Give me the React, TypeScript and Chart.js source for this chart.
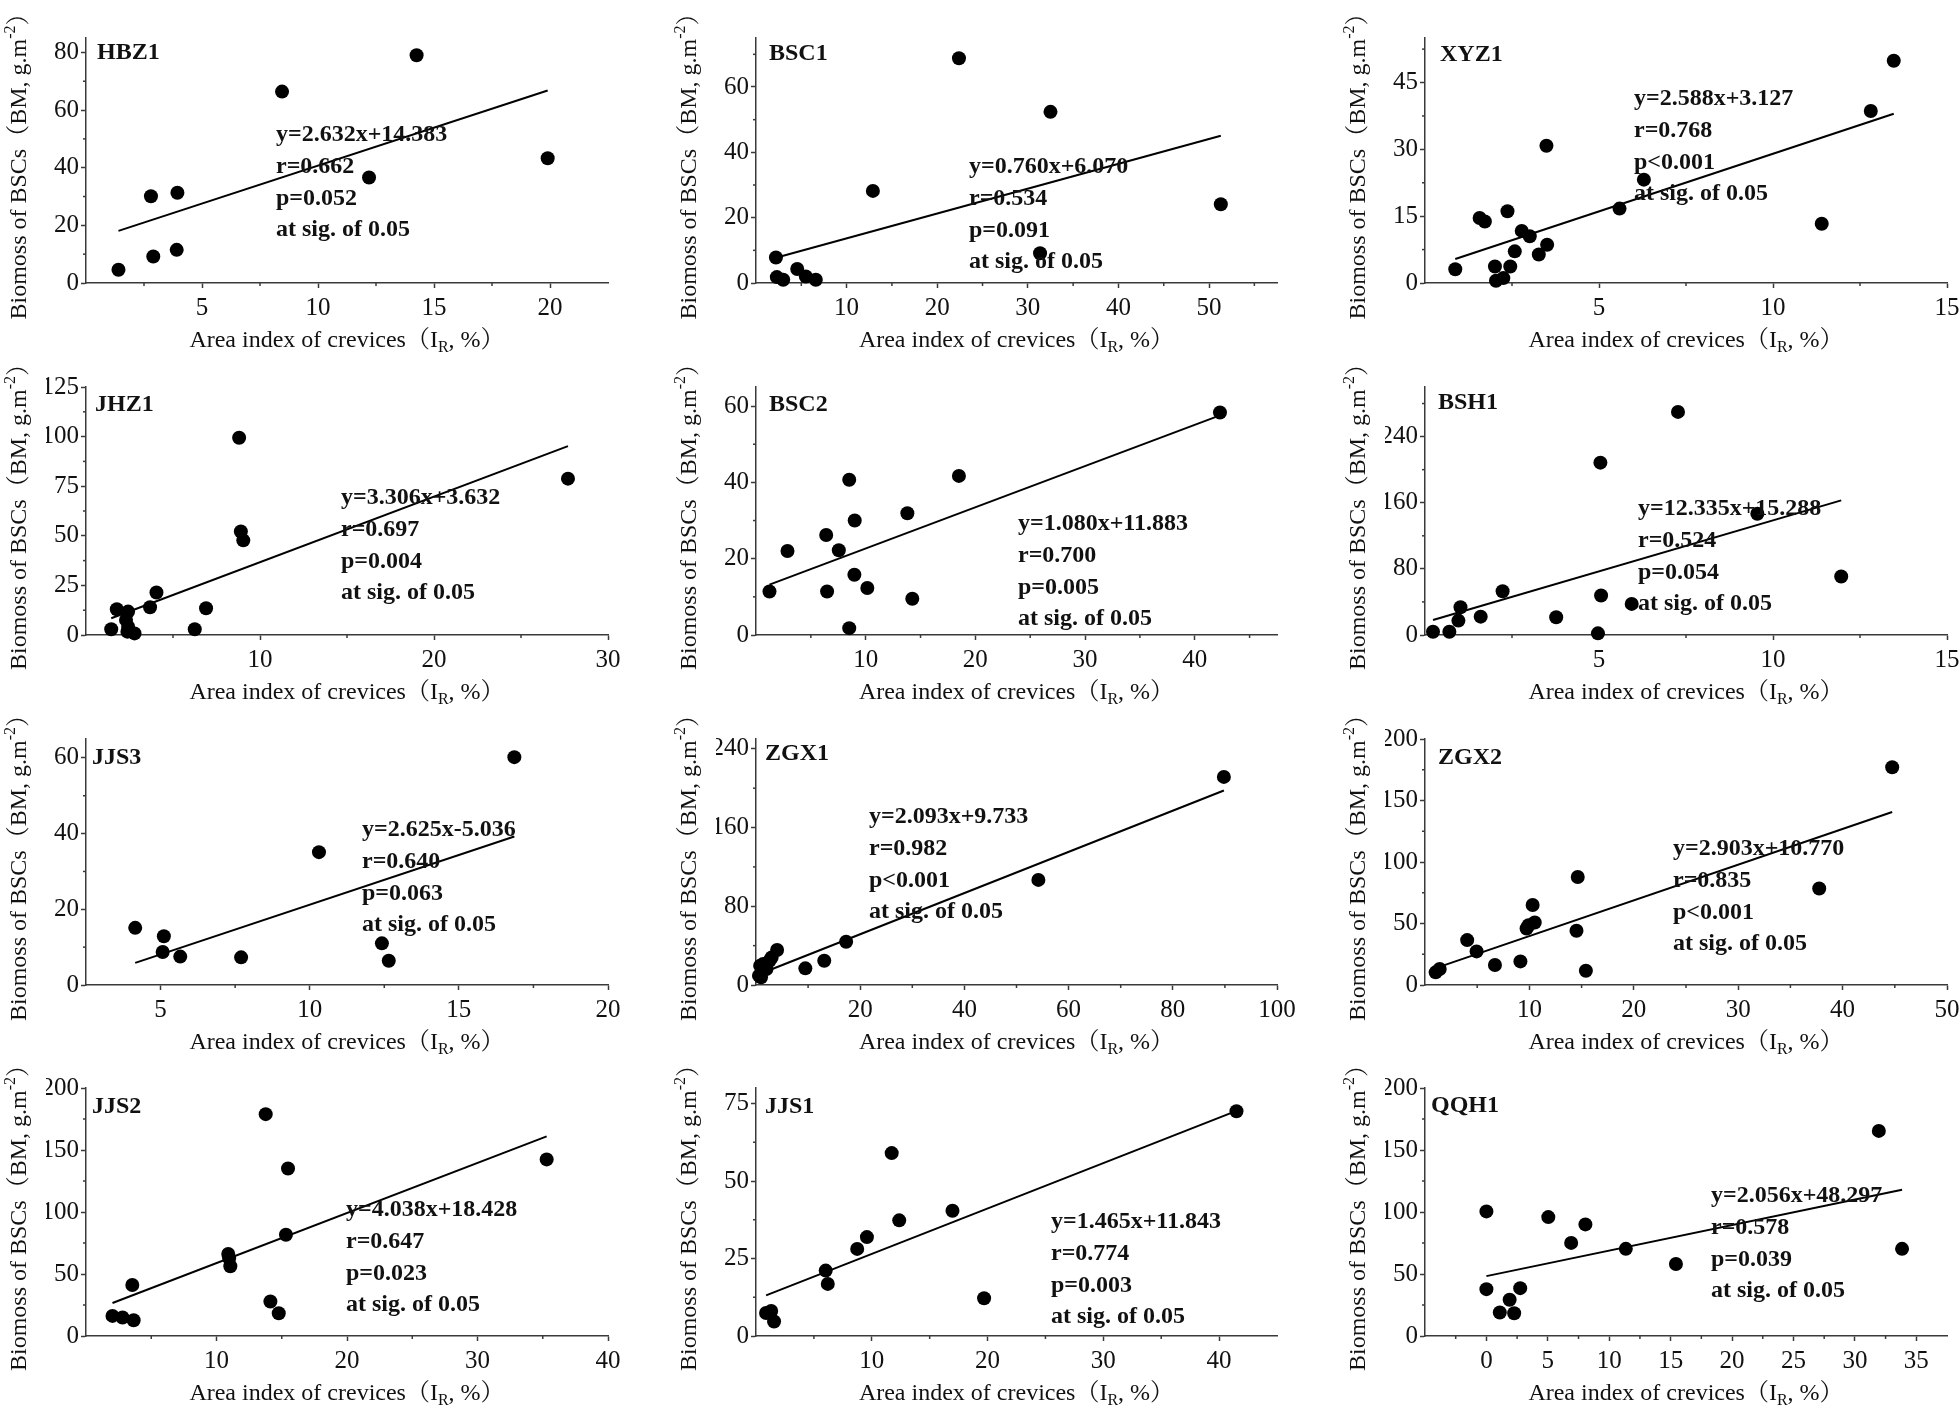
import React, { useEffect, useRef } from "react";
import { Chart, registerables } from "chart.js";

Chart.register(...registerables);

// ---------------- data ----------------
const panelNames = ["HBZ1", "BSC1", "XYZ1", "JHZ1", "BSC2", "BSH1", "JJS3", "ZGX1", "ZGX2", "JJS2", "JJS1", "QQH1"];

const hbz1X = [1.4, 2.8, 2.9, 3.94, 3.91, 8.45, 12.2, 14.25, 19.9];
const hbz1Y = [4.6, 30.1, 9.2, 31.3, 11.5, 66.4, 36.6, 79.0, 43.3];

const bsc1X = [2.2, 2.3, 3.0, 4.55, 5.5, 6.6, 12.9, 22.4, 31.35, 32.5, 51.3];
const bsc1Y = [7.8, 1.8, 1.0, 4.3, 2.0, 1.0, 28.2, 68.8, 9.1, 52.4, 24.1];

const xyz1X = [0.87, 1.57, 1.72, 2.37, 2.01, 2.04, 2.25, 2.45, 2.58, 2.78, 3.01, 3.27, 3.51, 3.49, 5.59, 6.29, 11.4, 12.81, 13.47];
const xyz1Y = [3.1, 14.6, 13.8, 16.1, 3.7, 0.5, 1.1, 3.7, 7.1, 11.7, 10.5, 6.4, 8.6, 30.8, 16.7, 23.2, 13.3, 38.6, 49.9];

const jhz1X = [1.45, 1.77, 2.42, 2.3, 2.42, 2.38, 2.79, 3.68, 4.05, 6.25, 6.9, 8.8, 8.9, 9.04, 27.7];
const jhz1Y = [2.9, 13.0, 11.8, 7.6, 4.2, 1.7, 0.8, 14.0, 21.4, 2.9, 13.5, 99.4, 52.2, 47.7, 78.8];

const bsc2X = [1.23, 2.87, 6.4, 6.48, 7.55, 8.5, 8.5, 9.0, 8.97, 10.15, 13.8, 14.25, 18.5, 42.3];
const bsc2Y = [11.4, 22.0, 26.2, 11.4, 22.2, 40.7, 1.8, 30.0, 15.8, 12.3, 31.9, 9.5, 41.7, 58.3];

const bsh1X = [0.23, 0.7, 0.96, 1.02, 1.6, 2.23, 3.77, 4.97, 5.04, 5.06, 5.94, 7.27, 9.55, 11.96];
const bsh1Y = [4.0, 4.0, 17.4, 33.5, 22.2, 52.9, 21.4, 2.0, 208.5, 47.7, 37.6, 269.9, 146.7, 70.7];

const jjs3X = [4.15, 5.11, 5.07, 5.66, 7.7, 10.31, 12.42, 12.65, 16.86];
const jjs3Y = [15.1, 12.9, 8.7, 7.5, 7.3, 35.1, 11.0, 6.4, 60.2];

const zgx1X = [0.57, 0.8, 0.97, 1.38, 2.0, 2.6, 3.0, 4.05, 9.47, 13.1, 17.3, 54.2, 89.8];
const zgx1Y = [9.5, 19.6, 7.8, 21.3, 16.2, 24.7, 28.0, 35.5, 16.9, 24.7, 43.9, 106.8, 211.5];

const zgx2X = [1.02, 1.41, 4.04, 4.94, 6.7, 9.14, 9.73, 9.92, 10.31, 10.51, 14.51, 14.63, 15.41, 37.76, 44.75];
const zgx2Y = [10.3, 13.0, 36.5, 27.3, 16.2, 19.2, 45.9, 48.6, 65.1, 50.8, 44.1, 87.8, 11.6, 78.4, 177.0];

const jjs2X = [2.03, 2.8, 3.65, 3.55, 10.9, 10.97, 11.06, 13.77, 14.13, 14.77, 15.32, 15.48, 35.3];
const jjs2Y = [16.2, 14.9, 12.7, 41.1, 66.2, 62.7, 56.2, 178.9, 27.8, 18.4, 81.6, 135.1, 142.4];

const jjs1X = [0.87, 1.31, 1.56, 6.02, 6.2, 8.74, 9.58, 11.72, 12.37, 16.97, 19.7, 41.5];
const jjs1Y = [7.4, 8.1, 4.7, 21.1, 16.8, 28.1, 31.9, 59.0, 37.3, 40.4, 12.2, 72.5];

const qqh1X = [0, 0, 1.09, 1.89, 2.26, 2.75, 5.04, 6.9, 8.06, 11.35, 15.43, 31.95, 33.84];
const qqh1Y = [100.5, 37.8, 18.9, 29.2, 18.4, 38.6, 95.9, 75.1, 90.0, 70.3, 58.1, 165.4, 70.3];

const slopes = [2.632, 0.76, 2.588, 3.306, 1.08, 12.335, 2.625, 2.093, 2.903, 4.038, 1.465, 2.056];
const intercepts = [14.383, 6.07, 3.127, 3.632, 11.883, 15.288, -5.036, 9.733, 10.77, 18.428, 11.843, 48.297];

const eqLabels = [
  "y=2.632x+14.383", "y=0.760x+6.070", "y=2.588x+3.127",
  "y=3.306x+3.632", "y=1.080x+11.883", "y=12.335x+15.288",
  "y=2.625x-5.036", "y=2.093x+9.733", "y=2.903x+10.770",
  "y=4.038x+18.428", "y=1.465x+11.843", "y=2.056x+48.297",
];
const rLabels = ["r=0.662", "r=0.534", "r=0.768", "r=0.697", "r=0.700", "r=0.524", "r=0.640", "r=0.982", "r=0.835", "r=0.647", "r=0.774", "r=0.578"];
const pLabels = ["p=0.052", "p=0.091", "p<0.001", "p=0.004", "p=0.005", "p=0.054", "p=0.063", "p<0.001", "p<0.001", "p=0.023", "p=0.003", "p=0.039"];
const sigLabel = "at sig. of 0.05";

const xRanges = [[0, 22.5], [0, 57.5], [0, 15], [0, 30], [0, 47.5], [0, 15], [2.5, 20], [0, 100], [0, 50], [0, 40], [0, 45], [-5, 37.5]];
const yRanges = [[0, 85], [0, 75], [0, 55], [0, 125], [0, 65], [0, 300], [0, 65], [0, 250], [0, 200], [0, 200], [0, 80], [0, 200]];
const xTickLabels = [
  [5, 10, 15, 20], [10, 20, 30, 40, 50], [5, 10, 15],
  [10, 20, 30], [10, 20, 30, 40], [5, 10, 15],
  [5, 10, 15, 20], [20, 40, 60, 80, 100], [10, 20, 30, 40, 50],
  [10, 20, 30, 40], [10, 20, 30, 40], [0, 5, 10, 15, 20, 25, 30, 35],
];
const yTickLabels = [
  [0, 20, 40, 60, 80], [0, 20, 40, 60], [0, 15, 30, 45],
  [0, 25, 50, 75, 100, 125], [0, 20, 40, 60], [0, 80, 160, 240],
  [0, 20, 40, 60], [0, 80, 160, 240], [0, 50, 100, 150, 200],
  [0, 50, 100, 150, 200], [0, 25, 50, 75], [0, 50, 100, 150, 200],
];
const xMinorSteps = [2.5, 5, 2.5, 5, 5, 2.5, 2.5, 10, 5, 5, 5, 2.5];
const yMinorSteps = [10, 10, 7.5, 12.5, 10, 40, 10, 40, 25, 25, 12.5, 25];

const xTitleParts = ["Area index of crevices\uFF08I", "R", ", %\uFF09"];
const yTitleParts = ["Biomoss of BSCs\uFF08BM, g.m", "-2", "\uFF09"];

const xsList = [hbz1X, bsc1X, xyz1X, jhz1X, bsc2X, bsh1X, jjs3X, zgx1X, zgx2X, jjs2X, jjs1X, qqh1X];
const ysList = [hbz1Y, bsc1Y, xyz1Y, jhz1Y, bsc2Y, bsh1Y, jjs3Y, zgx1Y, zgx2Y, jjs2Y, jjs1Y, qqh1Y];

// ---------------- layout ----------------
const colL = [86, 756, 1425];
const colR = [608, 1277, 1947];
const rowT = [38, 387, 739, 1088];
const rowB = [283, 635, 985, 1336];
const PADL = 100, PADT = 60, PADB = 85, YW = 40, XH = 40;
const padRight = [25, 25, 13];

// annotation first-line centre, relative to chart area (left, top)
const annotOffsets = [[190, 97], [213, 129], [209, 61], [255, 111], [262, 137], [213, 122], [276, 91], [113, 78], [248, 110], [260, 122], [295, 134], [286, 108]];
const labelOffsets = [[11, 15], [13, 16], [15, 17], [9, 18], [13, 18], [13, 16], [6, 19], [9, 15], [13, 19], [6, 19], [9, 19], [6, 18]];

const SERIF = "'Liberation Serif', 'Times New Roman', 'Noto Serif CJK SC', 'Noto Sans CJK SC', serif";
const AXIS = "#3a3a3a";
const TEXT = "#111111";
const TICK_FS = 25;
const TITLE_FS = 24;
const ANNOT_FS = 24;

type Seg = { t: string; kind: "n" | "sub" | "sup" };

function drawRich(ctx: CanvasRenderingContext2D, segs: Seg[], size: number) {
  const small = Math.round(size * 0.65);
  const widths = segs.map((s) => {
    ctx.font = `${s.kind === "n" ? size : small}px ${SERIF}`;
    return ctx.measureText(s.t).width;
  });
  const total = widths.reduce((a, b) => a + b, 0);
  let x = -total / 2;
  segs.forEach((s, i) => {
    ctx.font = `${s.kind === "n" ? size : small}px ${SERIF}`;
    const dy = s.kind === "sub" ? size * 0.28 : s.kind === "sup" ? -size * 0.38 : 0;
    ctx.fillText(s.t, x, dy);
    x += widths[i];
  });
}

function makeDecor(i: number) {
  return {
    id: "decor" + i,
    afterDraw(chart: any) {
      const ctx: CanvasRenderingContext2D = chart.ctx;
      const a = chart.chartArea;
      const sx = chart.scales.x;
      const sy = chart.scales.y;
      ctx.save();
      // minor ticks
      ctx.strokeStyle = AXIS;
      ctx.lineWidth = 1.5;
      const [x0, x1] = xRanges[i];
      const [y0, y1] = yRanges[i];
      const xt = xTickLabels[i];
      const yt = yTickLabels[i];
      const stx = xMinorSteps[i];
      for (let k = Math.ceil((x0 + 1e-9) / stx); k * stx < x1 - 1e-9; k++) {
        const v = k * stx;
        if (xt.some((t) => Math.abs(t - v) < 1e-6)) continue;
        const px = sx.getPixelForValue(v);
        ctx.beginPath();
        ctx.moveTo(px, a.bottom);
        ctx.lineTo(px, a.bottom + 3);
        ctx.stroke();
      }
      const sty = yMinorSteps[i];
      for (let k = Math.ceil((y0 + 1e-9) / sty); k * sty < y1 - 1e-9; k++) {
        const v = k * sty;
        if (yt.some((t) => Math.abs(t - v) < 1e-6)) continue;
        const py = sy.getPixelForValue(v);
        ctx.beginPath();
        ctx.moveTo(a.left, py);
        ctx.lineTo(a.left - 3, py);
        ctx.stroke();
      }
      ctx.fillStyle = TEXT;
      // panel label
      ctx.font = `bold ${ANNOT_FS}px ${SERIF}`;
      ctx.textBaseline = "middle";
      ctx.textAlign = "left";
      ctx.fillText(panelNames[i], a.left + labelOffsets[i][0], a.top + labelOffsets[i][1]);
      // annotation
      const lines = [eqLabels[i], rLabels[i], pLabels[i], sigLabel];
      lines.forEach((t, k) => {
        ctx.fillText(t, a.left + annotOffsets[i][0], a.top + annotOffsets[i][1] + k * 31.7);
      });
      // x title
      ctx.textAlign = "left";
      ctx.textBaseline = "middle";
      ctx.save();
      ctx.translate((a.left + a.right) / 2, a.bottom + 58);
      drawRich(ctx, [
        { t: xTitleParts[0], kind: "n" },
        { t: xTitleParts[1], kind: "sub" },
        { t: xTitleParts[2], kind: "n" },
      ], TITLE_FS);
      ctx.restore();
      // y title
      ctx.save();
      ctx.translate(a.left - 66, (a.top + a.bottom) / 2);
      ctx.rotate(-Math.PI / 2);
      drawRich(ctx, [
        { t: yTitleParts[0], kind: "n" },
        { t: yTitleParts[1], kind: "sup" },
        { t: yTitleParts[2], kind: "n" },
      ], TITLE_FS);
      ctx.restore();
      ctx.restore();
    },
  };
}

function Panel({ i }: { i: number }) {
  const ref = useRef<HTMLCanvasElement | null>(null);
  const col = i % 3;
  const row = Math.floor(i / 3);
  const L = colL[col], R = colR[col], T = rowT[row], B = rowB[row];
  const PADR = padRight[col];
  const w = R - L + PADL + PADR;
  const h = B - T + PADT + PADB;

  useEffect(() => {
    const xs = xsList[i];
    const ys = ysList[i];
    const pts = xs.map((x, k) => ({ x, y: ys[k] }));
    const minX = Math.min(...xs);
    const maxX = Math.max(...xs);
    const fit = [
      { x: minX, y: slopes[i] * minX + intercepts[i] },
      { x: maxX, y: slopes[i] * maxX + intercepts[i] },
    ];
    const tickFont = { family: SERIF, size: TICK_FS };
    const chart = new Chart(ref.current as HTMLCanvasElement, {
      type: "scatter",
      data: {
        datasets: [
          {
            type: "scatter",
            data: pts,
            pointRadius: 7,
            pointHoverRadius: 7,
            backgroundColor: "#000",
            borderWidth: 0,
            clip: false,
          } as any,
          {
            type: "line",
            data: fit,
            showLine: true,
            borderColor: "#000",
            borderWidth: 2,
            pointRadius: 0,
            fill: false,
            clip: false,
          } as any,
        ],
      },
      options: {
        responsive: false,
        animation: false,
        events: [],
        layout: {
          autoPadding: false,
          padding: { left: PADL - YW, top: PADT, right: PADR, bottom: PADB - XH },
        },
        plugins: { legend: { display: false }, tooltip: { enabled: false } },
        scales: {
          x: {
            type: "linear",
            min: xRanges[i][0],
            max: xRanges[i][1],
            afterBuildTicks: (s: any) => {
              s.ticks = xTickLabels[i].map((v) => ({ value: v }));
            },
            afterFit: (s: any) => {
              s.height = XH;
              s.paddingLeft = 0;
              s.paddingRight = 0;
            },
            ticks: {
              font: tickFont,
              color: TEXT,
              padding: 5,
              autoSkip: false,
              maxRotation: 0,
              minRotation: 0,
              callback: (v: any) => String(v),
            },
            grid: { display: true, drawOnChartArea: false, drawTicks: true, tickLength: 5, tickColor: AXIS, tickWidth: 1.5 },
            border: { display: true, color: AXIS, width: 1.5 },
          },
          y: {
            type: "linear",
            min: yRanges[i][0],
            max: yRanges[i][1],
            afterBuildTicks: (s: any) => {
              s.ticks = yTickLabels[i].map((v) => ({ value: v }));
            },
            afterFit: (s: any) => {
              s.width = YW;
              s.paddingTop = 0;
              s.paddingBottom = 0;
            },
            ticks: {
              font: tickFont,
              color: TEXT,
              padding: 2,
              autoSkip: false,
              callback: (v: any) => String(v),
            },
            grid: { display: true, drawOnChartArea: false, drawTicks: true, tickLength: 5, tickColor: AXIS, tickWidth: 1.5 },
            border: { display: true, color: AXIS, width: 1.5 },
          },
        },
      } as any,
      plugins: [makeDecor(i)],
    });
    return () => chart.destroy();
  }, [i]);

  return (
    <canvas
      ref={ref}
      width={w}
      height={h}
      style={{ position: "absolute", left: L - PADL, top: T - PADT, width: w, height: h }}
    />
  );
}

export default function App() {
  return (
    <div
      style={{
        position: "absolute",
        left: 0,
        top: 0,
        width: 1960,
        height: 1412,
        overflow: "hidden",
        background: "#ffffff",
      }}
    >
      {panelNames.map((_, i) => (
        <Panel key={i} i={i} />
      ))}
    </div>
  );
}
